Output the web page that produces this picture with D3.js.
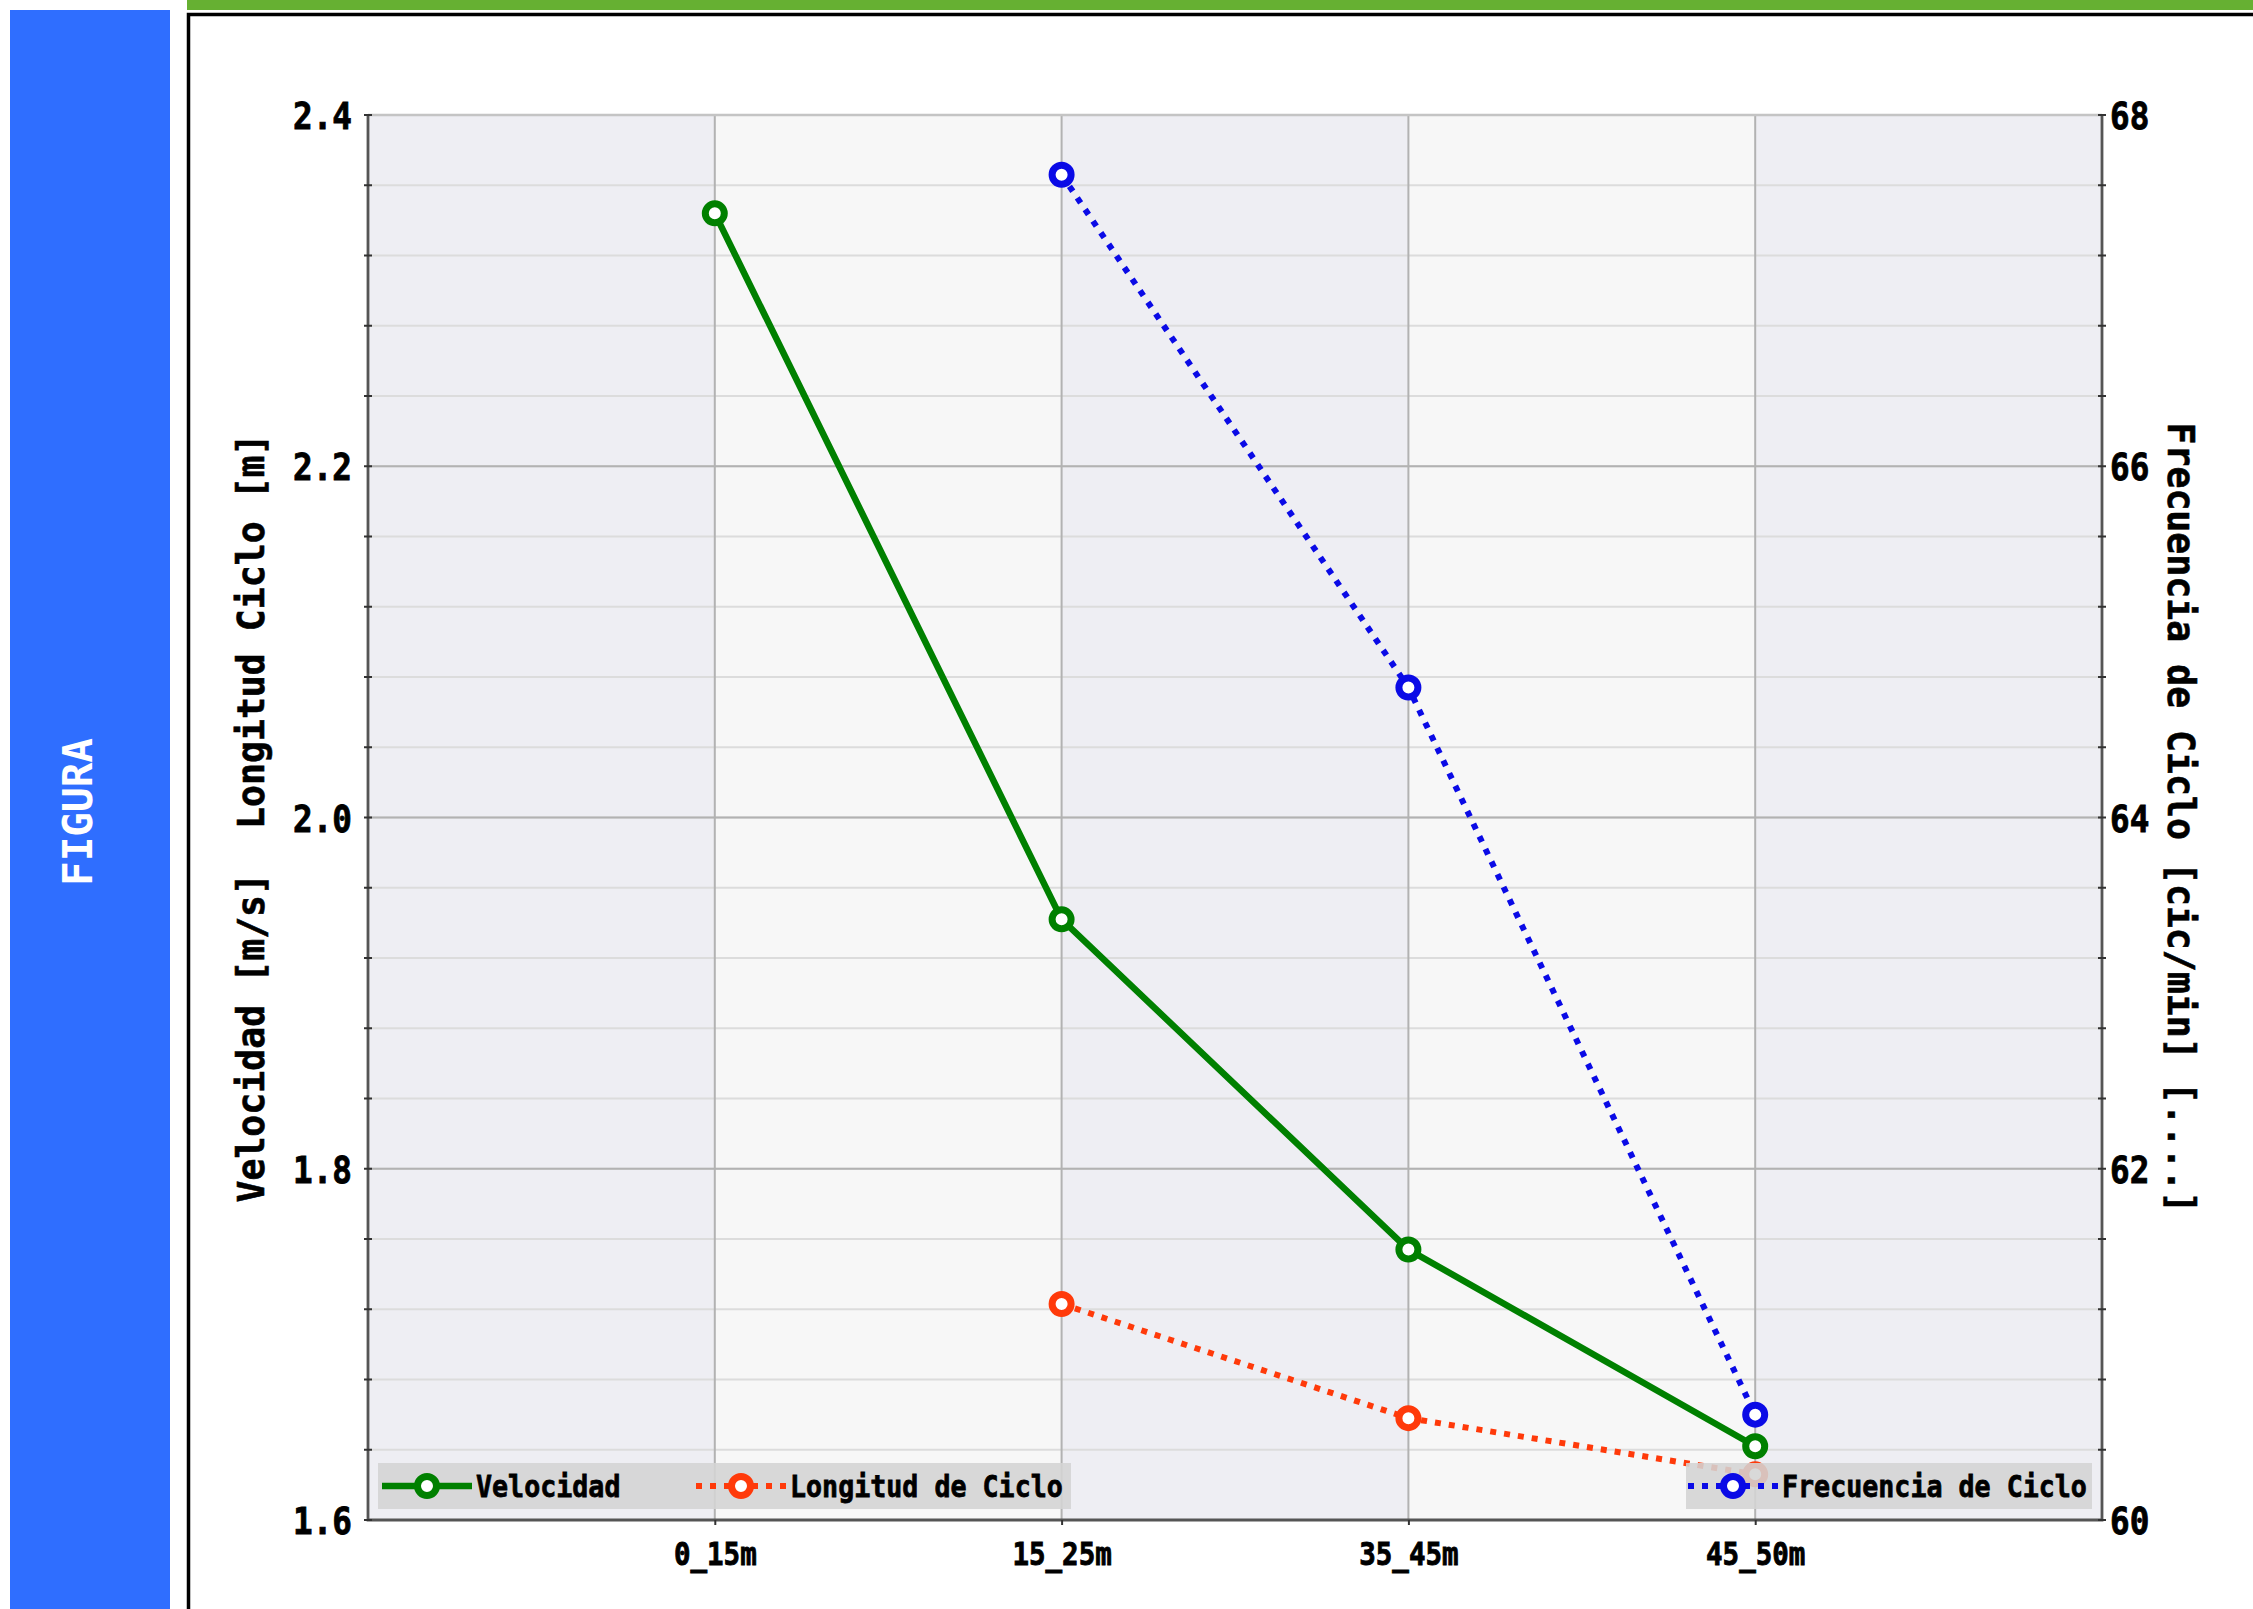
<!DOCTYPE html>
<html>
<head>
<meta charset="utf-8">
<script src="https://cdn.jsdelivr.net/npm/d3@7"></script>
<style>
  body { margin: 0; background: #fff; }
  svg { display: block; }
</style>
</head>
<body>
<svg id="chart" width="2253" height="1609"></svg>
<script>
// data
var categories = ["0_15m", "15_25m", "35_45m", "45_50m"]
var velocidad  = [2.344, 1.942, 1.754, 1.642]
var longitud   = [null, 1.723, 1.658, 1.626]
var frecuencia = [null, 67.66, 64.74, 60.60]
var leftTicks  = [1.6, 1.8, 2.0, 2.2, 2.4]
var rightTicks = [60, 62, 64, 66, 68]

var FONT = "'DejaVu Sans Mono', monospace"
var plot = {left: 368, right: 2102, top: 115, bottom: 1520}

var svg = d3.select("#chart")

// ---------------------------//
//   PAGE DECORATION          //
// ---------------------------//
svg.append("rect").attr("x", 10).attr("y", 10).attr("width", 160).attr("height", 1620).attr("fill", "#2f6eff")
svg.append("text")
  .attr("transform", "translate(92,812) rotate(-90)")
  .attr("text-anchor", "middle")
  .attr("font-family", FONT).attr("font-weight", "bold").attr("font-size", 41)
  .attr("fill", "#fff")
  .text("FIGURA")

svg.append("rect").attr("x", 187).attr("y", 0).attr("width", 2080).attr("height", 10).attr("fill", "#66b032")
svg.append("rect").attr("x", 188.5).attr("y", 14.5).attr("width", 2100).attr("height", 1650)
  .attr("fill", "none").attr("stroke", "#000").attr("stroke-width", 3.5)

// ---------------------------//
//   SCALES                   //
// ---------------------------//
var x = d3.scaleLinear().domain([0, categories.length + 1]).range([plot.left, plot.right])
var yL = d3.scaleLinear().domain([1.6, 2.4]).range([plot.bottom, plot.top])
var yR = d3.scaleLinear().domain([60, 68]).range([plot.bottom, plot.top])

// background bands
var bands = d3.range(0, categories.length + 1)
svg.append("g").selectAll("rect").data(bands).enter().append("rect")
  .attr("x", function(d){ return x(d) })
  .attr("y", plot.top)
  .attr("width", function(d){ return x(d + 1) - x(d) })
  .attr("height", plot.bottom - plot.top)
  .attr("fill", function(d){ return d % 2 == 0 ? "#eeeef3" : "#f7f7f7" })

// grid
var minor = d3.range(0, 21).map(function(i){ return 1.6 + i * 0.04 })
svg.append("g").selectAll("line").data(minor).enter().append("line")
  .attr("x1", plot.left).attr("x2", plot.right)
  .attr("y1", function(d){ return yL(d) }).attr("y2", function(d){ return yL(d) })
  .attr("stroke", "#dcdcdc").attr("stroke-width", 1.8)
svg.append("g").selectAll("line").data(leftTicks).enter().append("line")
  .attr("x1", plot.left).attr("x2", plot.right)
  .attr("y1", function(d){ return yL(d) }).attr("y2", function(d){ return yL(d) })
  .attr("stroke", "#b2b2b2").attr("stroke-width", 2)
svg.append("g").selectAll("line").data(categories).enter().append("line")
  .attr("x1", function(d, i){ return x(i + 1) }).attr("x2", function(d, i){ return x(i + 1) })
  .attr("y1", plot.top).attr("y2", plot.bottom)
  .attr("stroke", "#b2b2b2").attr("stroke-width", 2)

// spines
svg.append("line").attr("x1", plot.left).attr("x2", plot.right).attr("y1", plot.top).attr("y2", plot.top)
  .attr("stroke", "#c4c4c4").attr("stroke-width", 2.5)
svg.append("path")
  .attr("d", "M" + plot.left + "," + plot.top + "V" + plot.bottom + "H" + plot.right + "V" + plot.top)
  .attr("fill", "none").attr("stroke", "#555").attr("stroke-width", 2.8)

// minor ticks crossing the side spines
;[plot.left, plot.right].forEach(function(px){
  svg.append("g").selectAll("line").data(minor).enter().append("line")
    .attr("x1", px - 4).attr("x2", px + 4)
    .attr("y1", function(d){ return yL(d) }).attr("y2", function(d){ return yL(d) })
    .attr("stroke", "#333").attr("stroke-width", 2)
})

// ---------------------------//
//   AXES                     //
// ---------------------------//
function styleTicks(g, size){
  g.select(".domain").remove()
  g.selectAll("text")
    .attr("font-family", FONT).attr("font-weight", "bold").attr("font-size", size)
    .attr("fill", "#000").attr("stroke", "#000").attr("stroke-width", 0.9)
}

var gl = svg.append("g").attr("transform", "translate(" + plot.left + ",0)")
  .call(d3.axisLeft(yL).tickValues(leftTicks).tickSize(0).tickFormat(d3.format(".1f")))
styleTicks(gl, 38)
gl.selectAll("text").attr("x", -16 / 0.86).attr("dy", "0.36em").attr("transform", "scale(0.86,1)")

var gr = svg.append("g").attr("transform", "translate(" + plot.right + ",0)")
  .call(d3.axisRight(yR).tickValues(rightTicks).tickSize(0).tickFormat(d3.format("d")))
styleTicks(gr, 38)
gr.selectAll("text").attr("x", 8 / 0.86).attr("dy", "0.36em").attr("transform", "scale(0.86,1)")

var gb = svg.append("g").attr("transform", "translate(0," + plot.bottom + ")")
  .call(d3.axisBottom(x).tickValues([1, 2, 3, 4]).tickSize(5)
    .tickFormat(function(d){ return categories[d - 1] }))
styleTicks(gb, 32)
gb.selectAll("line").attr("stroke", "#333").attr("stroke-width", 2)
gb.selectAll(".tick text").attr("y", 0).attr("dy", 0)
  .attr("transform", "translate(0,45) scale(0.86,1)")

// axis titles
svg.append("text")
  .attr("transform", "translate(264,818) rotate(-90)")
  .attr("text-anchor", "middle").style("white-space", "pre")
  .attr("font-family", FONT).attr("font-weight", "bold").attr("font-size", 36.5)
  .attr("stroke", "#000").attr("stroke-width", 0.6)
  .text("Velocidad [m/s]  Longitud Ciclo [m]")
svg.append("text")
  .attr("transform", "translate(2168,818) rotate(90)")
  .attr("text-anchor", "middle").style("white-space", "pre")
  .attr("font-family", FONT).attr("font-weight", "bold").attr("font-size", 36.5)
  .attr("stroke", "#000").attr("stroke-width", 0.6)
  .text("Frecuencia de Ciclo [cic/min] [....]")

// ---------------------------//
//   SERIES                   //
// ---------------------------//
var series = [
  {name: "Velocidad", values: velocidad, y: yL, color: "#008000", dash: null},
  {name: "Longitud de Ciclo", values: longitud, y: yL, color: "#ff3a0a", dash: "6,8"},
  {name: "Frecuencia de Ciclo", values: frecuencia, y: yR, color: "#0a0ae6", dash: "6,8"}
]

function drawSeries(s){
  var pts = s.values.map(function(v, i){ return {i: i, v: v} }).filter(function(d){ return d.v != null })
  var line = d3.line().x(function(d){ return x(d.i + 1) }).y(function(d){ return s.y(d.v) })
  svg.append("path").datum(pts)
    .attr("d", line).attr("fill", "none")
    .attr("stroke", s.color).attr("stroke-width", s.dash ? 6 : 6.5)
    .attr("stroke-dasharray", s.dash)
  svg.append("g").selectAll("circle").data(pts).enter().append("circle")
    .attr("cx", function(d){ return x(d.i + 1) })
    .attr("cy", function(d){ return s.y(d.v) })
    .attr("r", 9.5).attr("fill", "#fff")
    .attr("stroke", s.color).attr("stroke-width", 7)
}
series.forEach(drawSeries)

// ---------------------------//
//   LEGENDS                  //
// ---------------------------//
var legY = 1486
svg.append("rect").attr("x", 378).attr("y", 1463).attr("width", 693).attr("height", 46)
  .attr("fill", "#d4d4d4").attr("opacity", 0.88)
svg.append("rect").attr("x", 1686).attr("y", 1463).attr("width", 406).attr("height", 46)
  .attr("fill", "#d4d4d4").attr("opacity", 0.88)

var legendPos = [382, 696, 1688]
series.forEach(function(s, k){
  var lx = legendPos[k]
  svg.append("line").attr("x1", lx).attr("x2", lx + 90).attr("y1", legY).attr("y2", legY)
    .attr("stroke", s.color).attr("stroke-width", s.dash ? 6 : 6.5).attr("stroke-dasharray", s.dash)
  svg.append("circle").attr("cx", lx + 45).attr("cy", legY).attr("r", 9.5)
    .attr("fill", "#fff").attr("stroke", s.color).attr("stroke-width", 7)
  svg.append("text")
    .attr("transform", "translate(" + (lx + 94) + "," + (legY + 11) + ") scale(0.86,1)")
    .attr("font-family", FONT).attr("font-weight", "bold").attr("font-size", 31)
    .attr("stroke", "#000").attr("stroke-width", 0.8)
    .text(s.name)
})
</script>
</body>
</html>
